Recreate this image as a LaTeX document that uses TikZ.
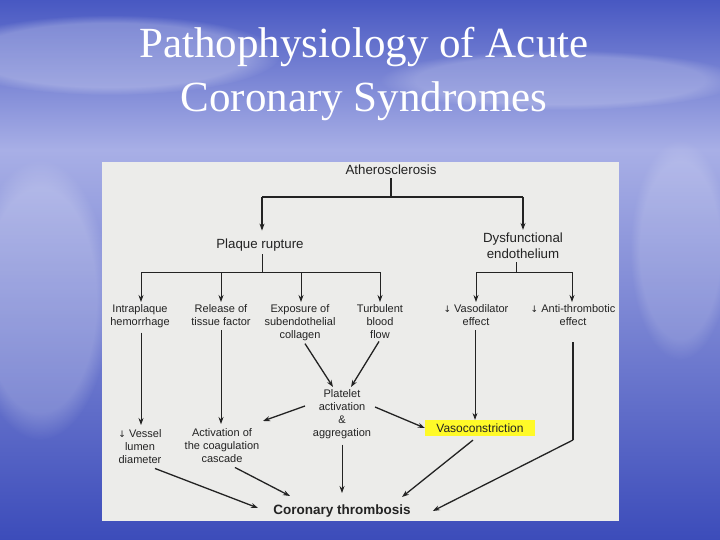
\documentclass[tikz,border=0pt]{standalone}
\usepackage{fontspec}
\setmainfont{Liberation Serif}
\newfontfamily\chartfont{Liberation Sans}
\newfontfamily\symfont{DejaVu Sans}
\usetikzlibrary{arrows.meta,fadings}
\definecolor{skyA}{RGB}{72,88,194}
\definecolor{skyB}{RGB}{168,175,230}
\definecolor{skyC}{RGB}{60,76,186}
\definecolor{panel}{RGB}{236,236,234}
\definecolor{ink}{RGB}{35,35,35}
\definecolor{hilite}{RGB}{255,250,40}
\tikzset{
  lbl/.style={font=\chartfont\fontsize{11}{13}\selectfont, text=ink, align=center, inner sep=1pt},
  biglbl/.style={lbl, font=\chartfont\fontsize{13.3}{16}\selectfont},
  ttl/.style={font=\fontsize{43}{54}\selectfont, text=white, align=center},
  ln/.style={draw=ink, line width=0.8pt},
  bold ln/.style={draw=ink, line width=1.3pt},
  arr/.style={-{Stealth[length=7pt,width=5pt]}},
  cloud/.style={fill=white, path fading=circle with fuzzy edge 20 percent},
}
\newcommand{\dn}{{\symfont\fontsize{9}{10}\selectfont ↓}}
\begin{document}
\begin{tikzpicture}[x=1pt,y=-1pt]
\useasboundingbox (0,0) rectangle (720,540);
% background
\shade[top color=skyA, bottom color=skyB] (0,0) rectangle (720,150);
\shade[top color=skyB, bottom color=skyC] (0,150) rectangle (720,540);
\fill[cloud, opacity=0.25] (110,55) ellipse (170 and 40);
\fill[cloud, opacity=0.2] (560,80) ellipse (180 and 30);
\fill[cloud, opacity=0.2] (40,300) ellipse (70 and 140);
\fill[cloud, opacity=0.15] (680,250) ellipse (50 and 110);
% title
\node[ttl] (title) at (364,74) {Pathophysiology of Acute\\Coronary Syndromes};
% panel
\fill[panel] (102,162) rectangle (619,521);
% nodes
\node[biglbl] (ath) at (391,170) {Atherosclerosis};
\node[biglbl] (plq) at (260,245) {Plaque rupture};
\node[biglbl] (dys) at (523,246) {Dysfunctional\\endothelium};
\node[lbl, anchor=north] (intra) at (140,303) {Intraplaque\\hemorrhage};
\node[lbl, anchor=north] (rel) at (221,303) {Release of\\tissue factor};
\node[lbl, anchor=north] (exp) at (300,303) {Exposure of\\subendothelial\\collagen};
\node[lbl, anchor=north] (turb) at (380,303) {Turbulent\\blood\\flow};
\node[lbl, anchor=north] (vdil) at (476,303) {\dn\ Vasodilator\\effect};
\node[lbl, anchor=north] (anti) at (573,303) {\dn\ Anti-thrombotic\\effect};
\node[lbl, anchor=north] (plt) at (342,388) {Platelet\\activation\\\&\\aggregation};
\node[lbl, anchor=north] (vess) at (140,428) {\dn\ Vessel\\lumen\\diameter};
\node[lbl, anchor=north] (act) at (222,427) {Activation of\\the coagulation\\cascade};
\node[lbl, font=\chartfont\fontsize{12}{14}\selectfont, fill=hilite, inner xsep=4pt, inner ysep=3.5pt, minimum width=110pt] (vcon) at (480,428) {Vasoconstriction};
\node[lbl, font=\chartfont\bfseries\fontsize{13.5}{15}\selectfont] (cor) at (342,511) {Coronary thrombosis};
% junction coordinates
\coordinate (j1) at (391,197);
\coordinate (j1l) at (262,197);
\coordinate (j1r) at (523,197);
\coordinate (j2) at (262,272);
\coordinate (j3) at (516,272);
\coordinate (bend) at (573,440);
% top tree
\draw[bold ln] ([yshift=-2pt]ath.south) -- (j1);
\draw[bold ln] (j1l) -- (j1r);
\draw[bold ln, arr] (j1l) -- ([yshift=7pt]plq.north -| j1l);
\draw[bold ln, arr] (j1r) -- ([yshift=2pt]dys.north -| j1r);
\draw[ln] ([yshift=-2pt]plq.south -| j2) -- (j2);
\draw[ln] (141,272) -- (380,272);
\foreach \n/\x in {intra/141, rel/221, exp/301, turb/380}
  \draw[ln, arr] (\x,272) -- ([yshift=1pt]\n.north -| \x,0);
\draw[ln] ([yshift=-2pt]dys.south -| j3) -- (j3);
\draw[ln] (476,272) -- (572,272);
\draw[ln, arr] (476,272) -- ([yshift=1pt]vdil.north -| 476,0);
\draw[ln, arr] (572,272) -- ([yshift=1pt]anti.north -| 572,0);
% middle
\draw[ln, arr] ([yshift=-4pt]intra.south -| 141,0) -- ([yshift=3pt]vess.north -| 141,0);
\draw[ln, arr] ([yshift=-4pt]rel.south -| 221,0) -- ([yshift=3pt]act.north -| 221,0);
\draw[bold ln, arr] ([xshift=5pt,yshift=-2pt]exp.south) -- (333,387);
\draw[bold ln, arr] ([xshift=-1pt,yshift=-2pt]turb.south) -- (351,387);
\draw[bold ln, arr] (305,406) -- (263,421);
\draw[bold ln, arr] (375,407) -- (vcon.west);
\draw[ln, arr] ([yshift=-4pt]vdil.south -| 475,0) -- (vcon.north -| 475,0);
\draw[bold ln] ([yshift=-16pt]anti.south -| 573,0) -- (bend);
% bottom
\draw[bold ln, arr] (bend) -- ([xshift=21pt]cor.east);
\draw[bold ln, arr] ([xshift=15pt,yshift=-4pt]vess.south) -- (258,508);
\draw[bold ln, arr] ([xshift=13pt,yshift=-4pt]act.south) -- (290,496);
\draw[ln, arr] ([yshift=-5pt]plt.south) -- (342,493);
\draw[bold ln, arr] ([xshift=-7pt,yshift=-4pt]vcon.south) -- (402,497);
\end{tikzpicture}
\end{document}
